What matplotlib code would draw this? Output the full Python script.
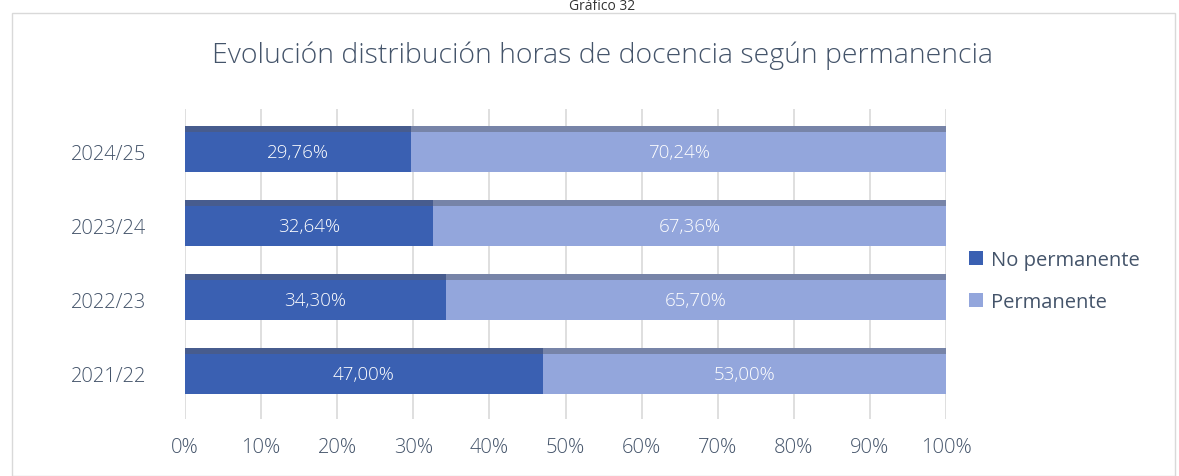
#!/usr/bin/env python3
"""
Stacked bar chart: evolution of teaching hours by permanence status.
"""

import matplotlib.pyplot as plt
from matplotlib.patches import Rectangle
from matplotlib.ticker import FuncFormatter

COURSES = ["2021/22", "2022/23", "2023/24", "2024/25"]
NO_PERMANENTE = [47.00, 34.30, 32.64, 29.76]
PERMANENTE = [53.00, 65.70, 67.36, 70.24]
SERIES_NAMES = ["No permanente", "Permanente"]
X_TICKS = [0, 10, 20, 30, 40, 50, 60, 70, 80, 90, 100]

TEXT_COLOR = "#44546A"
DARK_BLUE = "#3A60B2"
LIGHT_BLUE = "#93A6DC"
DARK_TOP = "#475C8E"
LIGHT_TOP = "#7784A8"


def pct_label(value):
    return f"{value:.2f}%".replace(".", ",")


def main():
    plt.rcParams["font.family"] = ["Open Sans", "DejaVu Sans"]

    fig = plt.figure(figsize=(11.79, 4.77), dpi=100)

    # outer chart frame and caption
    fig.patches.append(
        Rectangle((12 / 1179, 0), 1163 / 1179, 1 - 14 / 477, transform=fig.transFigure,
                  fill=False, edgecolor="#D9D9D9", linewidth=1.0)
    )
    fig.text(0.511, 1 - 6 / 477, "Gráfico 32", ha="center", va="center",
             fontsize=10, color="#333333")
    fig.text(0.511, 1 - 56 / 477, "Evolución distribución horas de docencia según permanencia",
             ha="center", va="center", fontsize=20.5, color=TEXT_COLOR, fontweight="light")

    ax = fig.add_axes([185 / 1179, 1 - 420 / 477, 761 / 1179, 310 / 477])

    positions = list(range(len(COURSES)))
    bar_height = 0.55
    ax.barh(positions, NO_PERMANENTE, height=bar_height, color=DARK_BLUE,
            label=SERIES_NAMES[0], zorder=3)
    ax.barh(positions, PERMANENTE, left=NO_PERMANENTE, height=bar_height, color=LIGHT_BLUE,
            label=SERIES_NAMES[1], zorder=3)

    # darker strip along the top face of each bar, a nod to the 3D look
    strip = 0.08
    top_y = [p + bar_height / 2 + strip / 2 for p in positions]
    ax.barh(top_y, NO_PERMANENTE, height=strip, color=DARK_TOP, zorder=3)
    ax.barh(top_y, PERMANENTE, left=NO_PERMANENTE, height=strip, color=LIGHT_TOP, zorder=3)

    for pos, a, b in zip(positions, NO_PERMANENTE, PERMANENTE):
        ax.text(a / 2, pos, pct_label(a), ha="center", va="center",
                color="white", fontsize=13.5, fontweight="light", zorder=4)
        ax.text(a + b / 2, pos, pct_label(b), ha="center", va="center",
                color="white", fontsize=13.5, fontweight="light", zorder=4)

    ax.set_xlim(0, 100)
    ax.set_ylim(-0.61, 3.58)
    ax.set_xticks(X_TICKS)
    ax.xaxis.set_major_formatter(FuncFormatter(lambda v, _: f"{v:.0f}%"))
    ax.set_yticks(positions)
    ax.set_yticklabels(COURSES)
    ax.tick_params(axis="x", length=0, pad=13, labelsize=14.5, labelcolor=TEXT_COLOR)
    ax.tick_params(axis="y", length=0, pad=28, labelsize=14.5, labelcolor=TEXT_COLOR)
    for label in ax.get_xticklabels() + ax.get_yticklabels():
        label.set_fontweight("light")
    ax.grid(True, axis="x", color="#D9D9D9", linewidth=1.2, zorder=0)
    for spine in ax.spines.values():
        spine.set_visible(False)

    ax.legend(loc="center left", bbox_to_anchor=(1.006, 0.445), frameon=False,
              fontsize=14.5, labelcolor=TEXT_COLOR, handlelength=0.7, handleheight=0.7,
              handletextpad=0.4, labelspacing=1.1)

    fig.savefig("out.png", dpi=100)
    plt.close(fig)


if __name__ == "__main__":
    main()
